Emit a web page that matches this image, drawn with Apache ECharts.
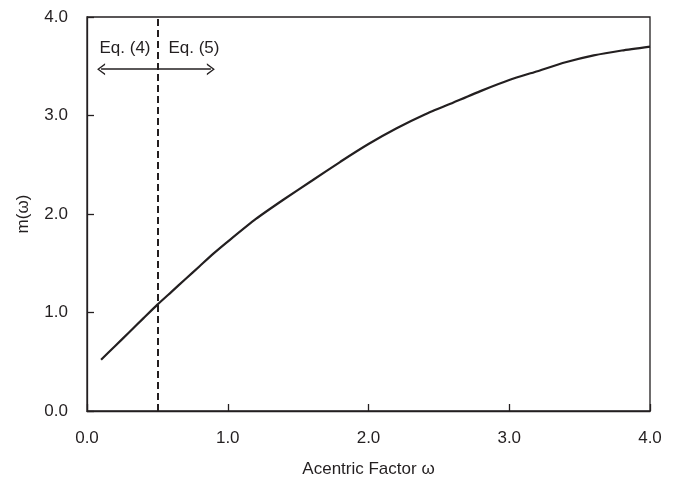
<!DOCTYPE html>
<html>
<head>
<meta charset="utf-8">
<script src="https://cdn.jsdelivr.net/npm/echarts@6/dist/echarts.min.js"></script>
<style>
  html, body { margin: 0; padding: 0; background: #fff; }
  #chart { width: 675px; height: 477px; }
</style>
</head>
<body>
<div id="chart"></div>
<script>
// acentric factor and m(omega)
var omega = [0.1, 0.2, 0.3, 0.4, 0.5, 0.6, 0.7, 0.8, 0.9, 1.0, 1.2, 1.4, 1.6, 1.8, 2.0, 2.2, 2.4, 2.6, 2.8, 3.0, 3.2, 3.4, 3.6, 3.8, 4.0]
var mValues = [0.52, 0.66, 0.80, 0.94, 1.08, 1.21, 1.34, 1.47, 1.60, 1.72, 1.95, 2.15, 2.34, 2.53, 2.71, 2.87, 3.01, 3.13, 3.25, 3.36, 3.45, 3.54, 3.61, 3.66, 3.70]
var tickLabels = ['0.0', '1.0', '2.0', '3.0', '4.0']
var splitX = 0.5
var arrowSpan = [0.1, 0.88]
var arrowY = 3.47
var eqLabels = [{ text: 'Eq. (4)', x: 0.27 }, { text: 'Eq. (5)', x: 0.76 }]
var textY = 3.68

var ink = '#231f20'
var font = 'Liberation Sans'
// open arrow head, tip pointing up before rotation
var chevron = 'path://M0,10 L5,0 L10,10 L8.6,10 L5,2.6 L1.4,10 Z'

var myChart = echarts.init(document.getElementById('chart'))
var option = {
    animation: false,
    grid: {
        left: 87, right: 25, top: 17, bottom: 66,
        outerBoundsMode: 'none',
        containLabel: false,
        show: true,
        borderColor: ink,
        borderWidth: 1.3
    },
    xAxis: {
        type: 'value',
        min: 0, max: 4, interval: 1,
        name: 'Acentric Factor ω',
        nameLocation: 'middle',
        nameGap: 50,
        nameTextStyle: { color: ink, fontSize: 17, fontFamily: font },
        axisLine: { show: true, lineStyle: { color: ink, width: 1.3 } },
        axisTick: { show: true, inside: true, length: 7, lineStyle: { color: ink, width: 1.3 } },
        axisLabel: {
            color: ink, fontSize: 17, fontFamily: font, margin: 19,
            formatter: function (v) { return tickLabels[Math.round(v)] }
        },
        splitLine: { show: false }
    },
    yAxis: {
        type: 'value',
        min: 0, max: 4, interval: 1,
        name: 'm(ω)',
        nameLocation: 'middle',
        nameGap: 55,
        nameTextStyle: { color: ink, fontSize: 17, fontFamily: font },
        axisLine: { show: true, lineStyle: { color: ink, width: 1.3 } },
        axisTick: { show: true, inside: true, length: 7, lineStyle: { color: ink, width: 1.3 } },
        axisLabel: {
            color: ink, fontSize: 17, fontFamily: font, margin: 19,
            formatter: function (v) { return tickLabels[Math.round(v)] }
        },
        splitLine: { show: false }
    },
    series: [{
        type: 'line',
        data: omega.map(function (w, i) { return [w, mValues[i]] }),
        showSymbol: false,
        smooth: 0.2,
        lineStyle: { color: ink, width: 2.2 },
        markLine: {
            silent: true,
            animation: false,
            label: { show: false },
            data: [
                [
                    { coord: [splitX, 0], symbol: 'none' },
                    { coord: [splitX, 4], symbol: 'none', lineStyle: { color: ink, width: 2, type: [7, 4] } }
                ],
                [
                    { coord: [arrowSpan[0], arrowY], symbol: chevron, symbolSize: [12, 8] },
                    { coord: [arrowSpan[1], arrowY], symbol: chevron, symbolSize: [12, 8], lineStyle: { color: ink, width: 1.5, type: 'solid' } }
                ]
            ]
        },
        markPoint: {
            silent: true,
            symbol: 'circle',
            symbolSize: 1,
            itemStyle: { color: 'rgba(0,0,0,0)' },
            data: eqLabels.map(function (e) {
                return {
                    coord: [e.x, textY],
                    label: {
                        show: true, position: 'inside', formatter: e.text,
                        color: ink, fontSize: 17, fontFamily: font
                    }
                }
            })
        }
    }]
}
myChart.setOption(option)
</script>
</body>
</html>
